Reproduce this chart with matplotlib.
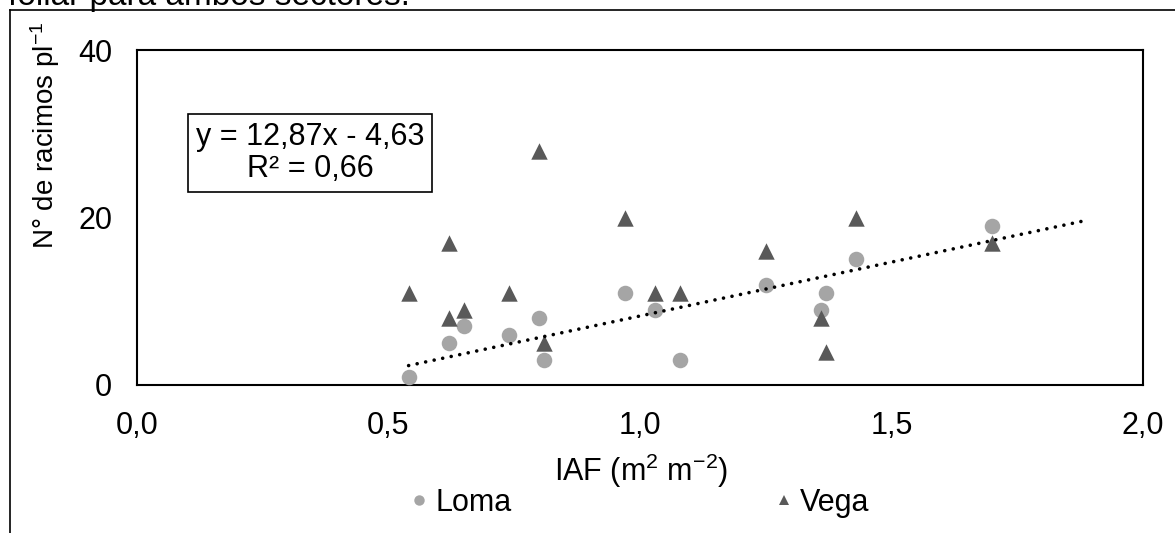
import matplotlib
matplotlib.use("Agg")
import matplotlib.pyplot as plt
import numpy as np
from matplotlib.lines import Line2D

plt.rcParams['font.family'] = ['Liberation Sans', 'DejaVu Sans']
plt.rcParams['mathtext.fontset'] = 'custom'
plt.rcParams['mathtext.rm'] = 'Liberation Sans'
plt.rcParams['mathtext.it'] = 'Liberation Sans:italic'
plt.rcParams['mathtext.bf'] = 'Liberation Sans:bold'

# ---- data ----
loma_x = [0.54, 0.62, 0.65, 0.74, 0.80, 0.81, 0.97, 1.03, 1.08, 1.25, 1.36, 1.37, 1.43, 1.70]
loma_y = [1, 5, 7, 6, 8, 3, 11, 9, 3, 12, 9, 11, 15, 19]
vega_x = [0.54, 0.62, 0.62, 0.65, 0.74, 0.80, 0.81, 0.97, 1.03, 1.08, 1.25, 1.36, 1.37, 1.43, 1.70]
vega_y = [11, 17, 8, 9, 11, 28, 5, 20, 11, 11, 16, 8, 4, 20, 17]
trend_slope = 12.87
trend_intercept = -4.63
trend_x_range = [0.54, 1.885]
x_ticks = [0.0, 0.5, 1.0, 1.5, 2.0]
x_ticklabels = ["0,0", "0,5", "1,0", "1,5", "2,0"]
y_ticks = [0, 20, 40]
y_ticklabels = ["0", "20", "40"]
equation_text = "y = 12,87x - 4,63\nR² = 0,66"

W, H = 1175, 533
AX_L, AX_R, AX_T, AX_B = 137, 1143, 50, 385
fig = plt.figure(figsize=(W / 100, H / 100), dpi=100)
ax = fig.add_axes([AX_L / W, 1 - AX_B / H, (AX_R - AX_L) / W, (AX_B - AX_T) / H])

c_loma = "#A5A5A5"
c_vega = "#595959"

ax.scatter(loma_x, loma_y, s=125, marker='o', color=c_loma, zorder=3, linewidths=0)
ax.scatter(vega_x, vega_y, s=140, marker='^', color=c_vega, zorder=3, linewidths=0)

tx = np.linspace(trend_x_range[0], trend_x_range[1], 50)
ax.plot(tx, trend_slope * tx + trend_intercept, color='black', lw=2.6,
        linestyle=(0, (0.01, 2.4)), dash_capstyle='round', zorder=4)

ax.set_xlim(0, 2.0)
ax.set_ylim(0, 40)
ax.set_xticks(x_ticks)
ax.set_xticklabels(x_ticklabels)
ax.set_yticks(y_ticks)
ax.set_yticklabels(y_ticklabels)
ax.tick_params(axis='x', length=0, pad=19, labelsize=22)
ax.tick_params(axis='y', length=0, pad=18, labelsize=22)
for sp in ax.spines.values():
    sp.set_linewidth(1.5)
    sp.set_color('black')

ax.text((310 - AX_L) / (AX_R - AX_L), (AX_B - 153) / (AX_B - AX_T), equation_text,
        transform=ax.transAxes, ha='center', va='center', fontsize=22,
        linespacing=1.08,
        bbox=dict(boxstyle='square,pad=0.26', facecolor='white', edgecolor='black', lw=1.2))

fig.text(45 / W, 1 - 135 / H, "N° de racimos pl$^{-1}$", rotation=90,
         ha='center', va='center', fontsize=20)
fig.text(641 / W, 1 - 471 / H, "IAF (m$^{2}$ m$^{-2}$)", ha='center', va='center', fontsize=22)

handles = [Line2D([], [], marker='o', color=c_loma, linestyle='none', markersize=7.5, markeredgewidth=0),
           Line2D([], [], marker='^', color=c_vega, linestyle='none', markersize=7.5, markeredgewidth=0)]
fig.legend(handles, ["Loma", "Vega"], loc='center', bbox_to_anchor=(641 / W, 1 - 503 / H),
           ncol=2, frameon=False, fontsize=22, handlelength=0.45, handletextpad=0.3,
           columnspacing=8.7)

# outer frame (partial) and cut-off caption text
fig.add_artist(Line2D([10 / W, 10 / W], [0, 1 - 10 / H], color='black', lw=1.2))
fig.add_artist(Line2D([10 / W, 1], [1 - 10 / H, 1 - 10 / H], color='black', lw=1.2))
fig.text(8 / W, 1 - 5 / H, "foliar para ambos sectores.", ha='left', va='baseline', fontsize=24)

fig.savefig("out.png", dpi=100)
